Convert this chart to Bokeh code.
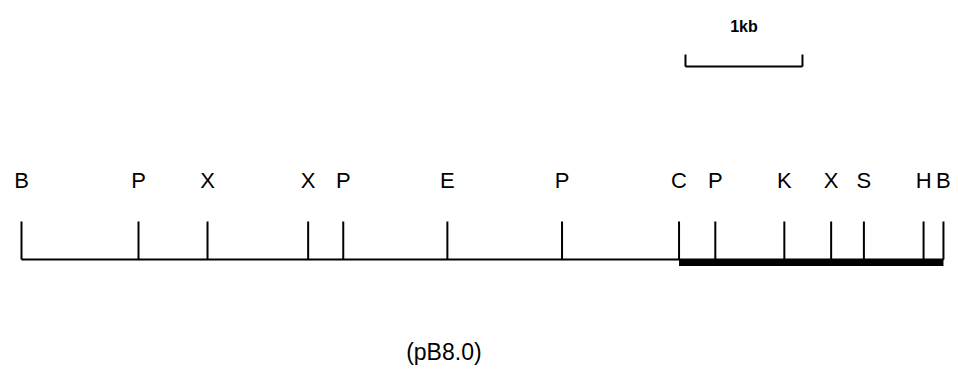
from bokeh.plotting import figure
from bokeh.models import Range1d, ColumnDataSource
from bokeh.core.properties import value
from bokeh.embed import file_html
from bokeh.resources import INLINE

# Restriction sites of pB8.0 (positions in kb from the left BamHI site)
site_labels = ["B", "P", "X", "X", "P", "E", "P", "C", "P", "K", "X", "S", "H", "B"]
site_pos_kb = [0.0, 1.00, 1.59, 2.45, 2.75, 3.64, 4.62, 5.62, 5.93, 6.52, 6.92, 7.20, 7.71, 7.88]

# Thick (highlighted) region of the map, in kb
thick_start_kb = 5.62
thick_end_kb = 7.88

# Scale bar
scale_label = "1kb"
scale_start_kb = 5.675
scale_len_kb = 1.0

title_label = "(pB8.0)"
title_pos_kb = 3.61

W, H = 950, 372
PX_PER_KB = 117.0
x0 = -21.0 / PX_PER_KB

p = figure(width=W, height=H, output_backend="svg", toolbar_location=None,
           x_range=Range1d(x0, x0 + W / PX_PER_KB), y_range=Range1d(H, 0),
           min_border=0)
p.axis.visible = False
p.grid.visible = False
p.outline_line_color = None
p.background_fill_color = "white"
p.border_fill_color = "white"

base_y = 259
tick_top = 221
label_y = 180

FONT = value("Liberation Sans")

n = len(site_pos_kb)
src = ColumnDataSource(dict(x=site_pos_kb, lab=site_labels,
                            y0=[base_y] * n, y1=[tick_top] * n,
                            ly=[label_y] * n))

# baseline
p.segment(x0=[site_pos_kb[0]], y0=[base_y], x1=[site_pos_kb[-1]], y1=[base_y],
          line_color="black", line_width=2)
# thick region
p.segment(x0=[thick_start_kb], y0=[base_y + 3], x1=[thick_end_kb], y1=[base_y + 3],
          line_color="black", line_width=7)
# site ticks
p.segment(x0="x", y0="y0", x1="x", y1="y1", source=src, line_color="black", line_width=2)
# site labels
p.text(x="x", y="ly", text="lab", source=src, text_align="center", text_baseline="middle",
       text_font=FONT, text_font_size="22px", text_color="black")

# scale bar
sx0 = scale_start_kb
sx1 = scale_start_kb + scale_len_kb
p.segment(x0=[sx0], y0=[66], x1=[sx1], y1=[66], line_color="black", line_width=2)
p.segment(x0=[sx0, sx1], y0=[66, 66], x1=[sx0, sx1], y1=[54, 54], line_color="black", line_width=2)
p.text(x=[(sx0 + sx1) / 2], y=[26], text=[scale_label], text_align="center", text_baseline="middle",
       text_font=FONT, text_font_size="16px", text_font_style="bold",
       text_color="black")

# caption
p.text(x=[title_pos_kb], y=[351], text=[title_label],
       text_align="center", text_baseline="middle",
       text_font=FONT, text_font_size="23px", text_color="black")

open("out.html", "w").write(file_html(p, INLINE))
